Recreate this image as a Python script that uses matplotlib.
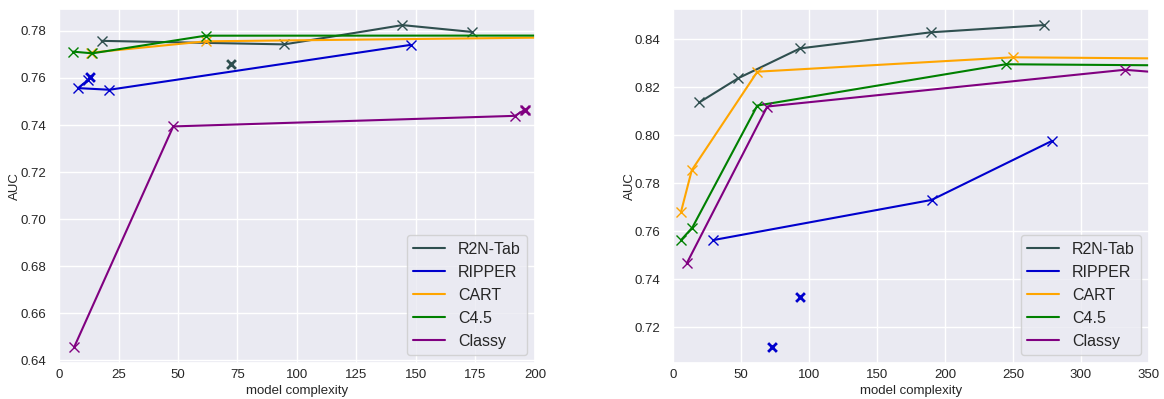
import matplotlib
matplotlib.use('Agg')
import matplotlib.pyplot as plt
import seaborn as sns

sns.set_theme(style='darkgrid')
plt.rcParams['font.family'] = ['Liberation Sans', 'DejaVu Sans']

methods = ['R2N-Tab', 'RIPPER', 'CART', 'C4.5', 'Classy']
colors = {'R2N-Tab': '#2F4F4F', 'RIPPER': 'mediumblue', 'CART': 'orange',
          'C4.5': 'green', 'Classy': 'purple'}

# left dataset: front points (complexity, AUC)
left_x = {
    'R2N-Tab': [17.9, 94.7, 144.3, 173.5],
    'RIPPER': [12.2, 8.0, 21.2, 147.8],
    'CART': [13.6, 61.6, 320.0],
    'C4.5': [6.0, 14.0, 61.6, 400.0],
    'Classy': [6.4, 48.0, 191.6, 195.8],
}
left_y = {
    'R2N-Tab': [0.7758, 0.7743, 0.7825, 0.7796],
    'RIPPER': [0.7592, 0.7557, 0.7550, 0.7741],
    'CART': [0.7708, 0.7756, 0.7785],
    'C4.5': [0.7712, 0.7705, 0.7780, 0.7781],
    'Classy': [0.6456, 0.7394, 0.7439, 0.7465],
}
# left dataset: extra (single) points
left_extra_x = {'R2N-Tab': [72.1], 'RIPPER': [13.2], 'Classy': [195.8]}
left_extra_y = {'R2N-Tab': [0.7660], 'RIPPER': [0.7606], 'Classy': [0.7465]}

# right dataset
right_x = {
    'R2N-Tab': [19.3, 48.0, 93.4, 189.6, 272.6],
    'RIPPER': [29.7, 190.1, 278.7],
    'CART': [5.9, 13.8, 62.0, 250.0, 500.0],
    'C4.5': [5.9, 14.2, 62.0, 244.7, 500.0],
    'Classy': [10.1, 69.3, 332.1, 400.0],
}
right_y = {
    'R2N-Tab': [0.8136, 0.8237, 0.8361, 0.8428, 0.8458],
    'RIPPER': [0.7563, 0.7730, 0.7976],
    'CART': [0.7681, 0.7854, 0.8264, 0.8324, 0.8313],
    'C4.5': [0.7563, 0.7615, 0.8123, 0.8295, 0.8285],
    'Classy': [0.7466, 0.8119, 0.8272, 0.8242],
}
right_extra_x = {'RIPPER': [93.3, 73.0]}
right_extra_y = {'RIPPER': [0.7327, 0.7118]}

fig = plt.figure(figsize=(11.64, 3.99), dpi=100)
ax1 = fig.add_axes([0.0507, 0.0902, 0.4089, 0.8872])
ax2 = fig.add_axes([0.5782, 0.0902, 0.4089, 0.8872])

panels = [(ax1, left_x, left_y, left_extra_x, left_extra_y, 200),
          (ax2, right_x, right_y, right_extra_x, right_extra_y, 350)]

for ax, xs, ys, ex, ey, xmax in panels:
    for m in methods:
        c = colors[m]
        ax.plot(xs[m], ys[m], color=c, lw=1.5, label=m)
        ax.plot(xs[m], ys[m], 'x', color=c, ms=7, mew=1.0)
        if m in ex:
            ax.scatter(ex[m], ey[m], marker='x', color=c, s=40, linewidths=2)
    ax.set_xlim(0, xmax)
    ax.set_xlabel('model complexity', fontsize=9.5, labelpad=3)
    ax.set_ylabel('AUC', fontsize=9.5, labelpad=-1)
    ax.tick_params(axis='x', labelsize=9.5, length=0, pad=4.5)
    ax.tick_params(axis='y', labelsize=9.5, length=6, pad=3.5)
    ax.legend(loc='lower right', fontsize=11.5)

fig.savefig('out.png', dpi=100)
